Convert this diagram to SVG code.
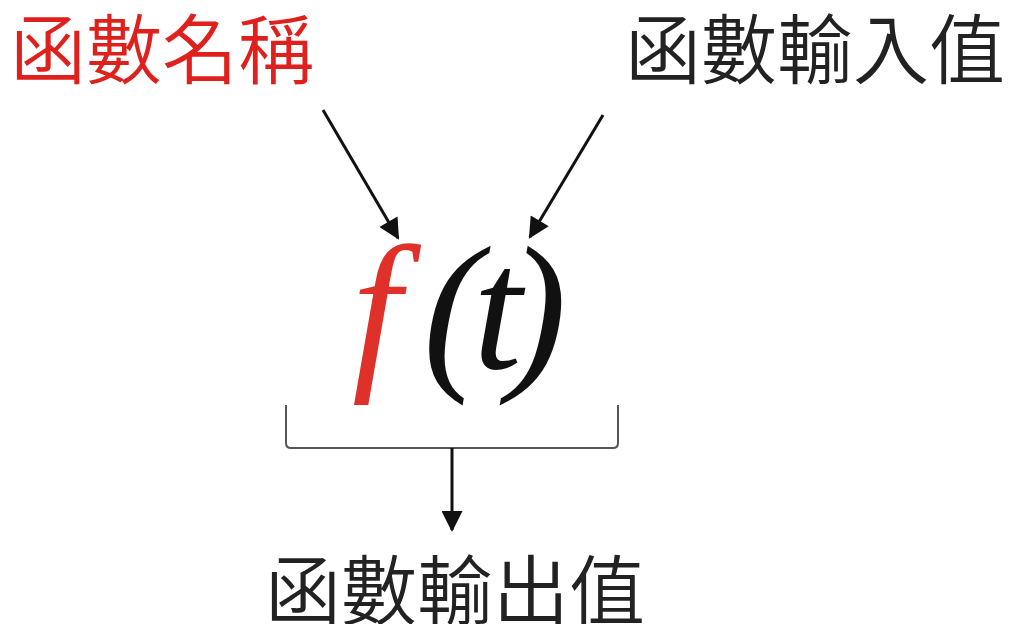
<svg xmlns="http://www.w3.org/2000/svg" width="1011" height="624" viewBox="0 0 1011 624">
<style>
.cjk{font-family:"Noto Sans CJK TC","Noto Sans CJK SC",sans-serif;font-size:76px;font-weight:350}
.math{font-family:"Liberation Serif",serif;font-style:italic;font-size:176px}
.arr{stroke:#111;stroke-width:3;fill:none;marker-end:url(#ah)}
</style>
<defs>
<marker id="ah" viewBox="0 0 10 10" refX="9" refY="5" markerWidth="7.5" markerHeight="7" markerUnits="strokeWidth" orient="auto">
<path d="M0,0 L10,5 L0,10 Z" fill="#111"/>
</marker>
</defs>
<rect width="1011" height="624" fill="#fff"/>
<g id="name-label"><text class="cjk" x="10" y="78" fill="#e0201c">函數名稱</text></g>
<g id="input-label"><text class="cjk" x="625" y="78" fill="#222">函數輸入值</text></g>
<g id="output-label"><text class="cjk" x="265" y="619" fill="#222">函數輸出值</text></g>
<g id="formula"><text class="math" y="368"><tspan x="352" fill="#e0302a">f</tspan><tspan x="423" fill="#111">(</tspan><tspan x="473" fill="#111">t</tspan><tspan x="508" fill="#111">)</tspan></text></g>
<g id="connectors">
<line class="arr" x1="323" y1="110" x2="398" y2="238"/>
<line class="arr" x1="603" y1="115" x2="530" y2="237"/>
<path d="M286,405 V443 Q286,448 291,448 H613 Q618,448 618,443 V405" stroke="#555" stroke-width="2" fill="none"/>
<line class="arr" x1="452" y1="448" x2="452" y2="530"/>
</g>
</svg>
